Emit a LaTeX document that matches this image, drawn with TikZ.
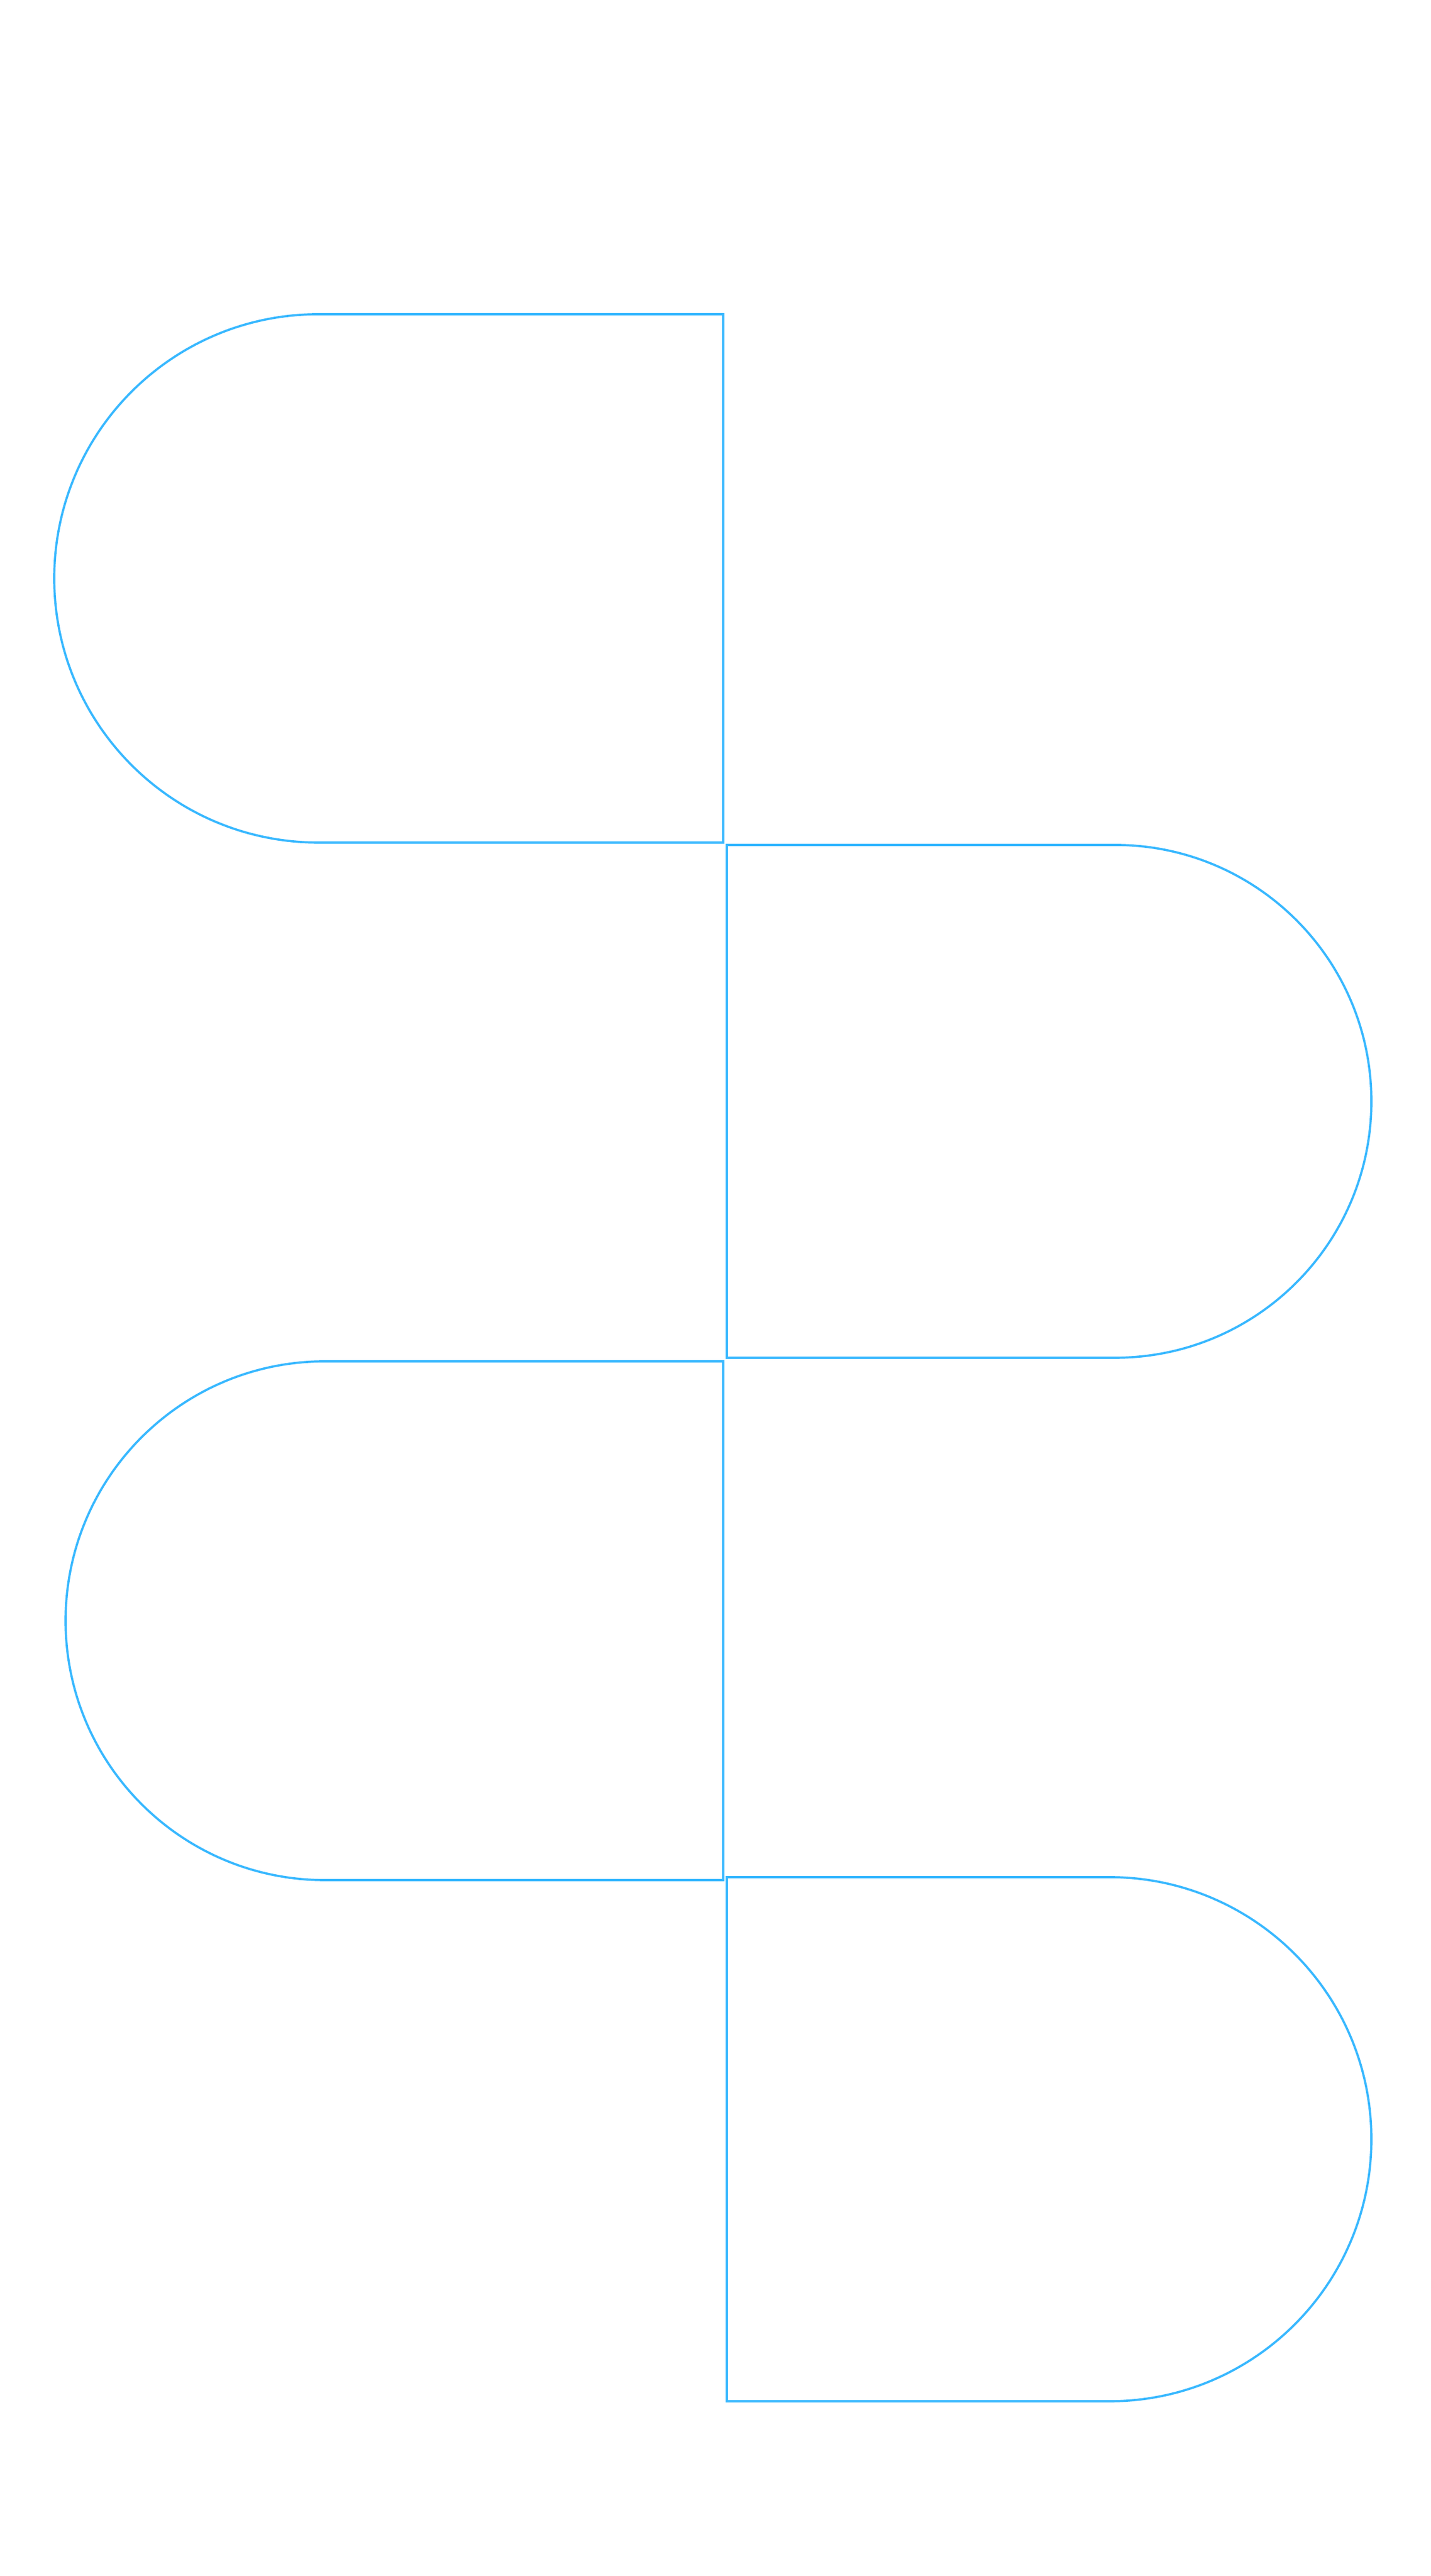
\documentclass[tikz,border=0pt]{standalone}
\definecolor{lineblue}{RGB}{56,184,255}
\begin{document}
\begin{tikzpicture}[dshape/.style={draw=lineblue, line width=1.05pt, line join=miter}]
\fill[white] (0,0) rectangle (24,43.2);
\useasboundingbox (0,0) rectangle (24,43.2);
% shape 1 (left)
\draw[dshape] (12.13,37.93) -- (5.34,37.93) arc[start angle=90, end angle=270, radius=4.43cm] -- (12.13,29.07) -- cycle;
% shape 2 (right)
\draw[dshape] (12.19,29.03) -- (18.70,29.03) arc[start angle=90, end angle=-90, radius=4.30cm] -- (12.19,20.43) -- cycle;
% shape 3 (left)
\draw[dshape] (12.13,20.37) -- (5.45,20.37) arc[start angle=90, end angle=270, radius=4.35cm] -- (12.13,11.67) -- cycle;
% shape 4 (right)
\draw[dshape] (12.19,11.72) -- (18.605,11.72) arc[start angle=90, end angle=-90, radius=4.395cm] -- (12.19,2.93) -- cycle;
\end{tikzpicture}
\end{document}
